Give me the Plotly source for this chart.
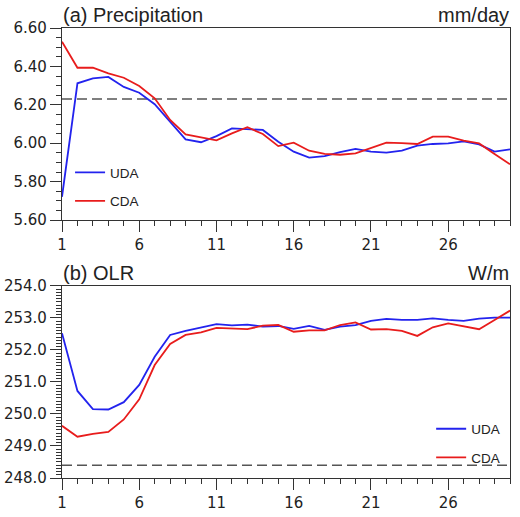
import plotly.graph_objects as go

days = list(range(1, 31))

precip_uda = [5.721, 6.312, 6.338, 6.345, 6.293, 6.263, 6.203, 6.112, 6.020, 6.005,
              6.037, 6.077, 6.074, 6.069, 6.008, 5.956, 5.925, 5.933, 5.953, 5.970,
              5.956, 5.951, 5.961, 5.987, 5.996, 5.999, 6.010, 5.994, 5.956, 5.968]
precip_cda = [6.529, 6.393, 6.393, 6.364, 6.341, 6.298, 6.234, 6.121, 6.046, 6.029,
              6.015, 6.051, 6.083, 6.048, 5.985, 6.003, 5.961, 5.944, 5.940, 5.947,
              5.973, 6.003, 6.000, 5.996, 6.034, 6.034, 6.013, 5.999, 5.944, 5.890]
olr_uda = [252.52, 250.72, 250.15, 250.14, 250.37, 250.91, 251.79, 252.47, 252.60, 252.70,
           252.81, 252.77, 252.79, 252.73, 252.75, 252.66, 252.75, 252.63, 252.73, 252.78,
           252.91, 252.97, 252.94, 252.94, 252.99, 252.94, 252.91, 252.98, 253.01, 253.01]
olr_cda = [249.63, 249.29, 249.38, 249.44, 249.83, 250.46, 251.53, 252.19, 252.47, 252.55,
           252.69, 252.66, 252.65, 252.76, 252.78, 252.57, 252.61, 252.61, 252.78, 252.86,
           252.64, 252.65, 252.60, 252.44, 252.71, 252.83, 252.73, 252.65, 252.94, 253.23]
precip_ref = 6.23
olr_ref = 248.4

series_names = ["UDA", "CDA"]
panel_titles = ["(a) Precipitation", "(b) OLR"]
panel_units = ["mm/day", "W/m"]

BLUE = "#2323ee"
RED = "#e81c1c"
FRAME = "#333333"
TICKFONT = dict(family="DejaVu Sans", size=15, color="#222222")
LEGFONT = dict(family="Liberation Sans, Arial", size=13.5, color="#222222")
TITLEFONT = dict(family="Liberation Sans, Arial", size=20, color="#222222")

fig = go.Figure()

fig.add_trace(go.Scatter(x=days, y=precip_uda, mode="lines", name=series_names[0],
                         line=dict(color=BLUE, width=1.8), xaxis="x", yaxis="y",
                         legend="legend", legendgroup="a1"))
fig.add_trace(go.Scatter(x=days, y=precip_cda, mode="lines", name=series_names[1],
                         line=dict(color=RED, width=1.8), xaxis="x", yaxis="y",
                         legend="legend", legendgroup="a2"))
fig.add_trace(go.Scatter(x=days, y=olr_uda, mode="lines", name=series_names[0],
                         line=dict(color=BLUE, width=1.8), xaxis="x2", yaxis="y2",
                         legend="legend2", legendgroup="b1"))
fig.add_trace(go.Scatter(x=days, y=olr_cda, mode="lines", name=series_names[1],
                         line=dict(color=RED, width=1.8), xaxis="x2", yaxis="y2",
                         legend="legend2", legendgroup="b2"))

for yref, val in (("y", precip_ref), ("y2", olr_ref)):
    xref = "x domain" if yref == "y" else "x2 domain"
    fig.add_shape(type="line", xref=xref, yref=yref, x0=0, x1=1, y0=val, y1=val,
                  line=dict(color="#555555", width=1.5, dash="10px,5px"), layer="below")

xcommon = dict(range=[1, 30], tick0=1, dtick=5, ticks="outside", ticklen=11, tickwidth=1.2,
               tickcolor=FRAME, showline=True, linecolor=FRAME, linewidth=1.3, mirror=True,
               showgrid=False, zeroline=False, tickfont=TICKFONT, automargin=False,
               minor=dict(dtick=1, tick0=1, ticks="outside", ticklen=5, tickcolor=FRAME,
                          tickwidth=1, showgrid=False))
ycommon = dict(ticks="outside", ticklen=11, tickwidth=1.2, tickcolor=FRAME, showline=True,
               linecolor=FRAME, linewidth=1.3, mirror=True, showgrid=False, zeroline=False,
               tickfont=TICKFONT, automargin=False)

fig.update_layout(
    width=520, height=517,
    margin=dict(l=62, r=10, t=28, b=39, autoexpand=False),
    paper_bgcolor="white", plot_bgcolor="white",
    xaxis=dict(domain=[0, 1], anchor="y", **xcommon),
    yaxis=dict(domain=[0.5733, 1], anchor="x", range=[5.6, 6.6], dtick=0.2, tick0=5.6,
               tickformat=".2f",
               minor=dict(dtick=0.05, ticks="outside", ticklen=5, tickcolor=FRAME, tickwidth=1),
               **ycommon),
    xaxis2=dict(domain=[0, 1], anchor="y2", **xcommon),
    yaxis2=dict(domain=[0, 0.4267], anchor="x2", range=[248, 254], dtick=1, tick0=248,
                tickformat=".1f",
                minor=dict(dtick=0.1, ticks="outside", ticklen=5, tickcolor=FRAME, tickwidth=1),
                **ycommon),
    legend=dict(x=0.018, y=0.713, xanchor="left", yanchor="top", bgcolor="rgba(0,0,0,0)",
                font=LEGFONT, tracegroupgap=8, itemwidth=30),
    legend2=dict(x=0.824, y=0.1434, xanchor="left", yanchor="top", bgcolor="rgba(0,0,0,0)",
                 font=LEGFONT, tracegroupgap=8, itemwidth=30),
    showlegend=True,
)

fig.add_annotation(text=panel_titles[0], xref="x domain", yref="y domain", x=0, y=1,
                   xanchor="left", yanchor="bottom", showarrow=False, font=TITLEFONT,
                   yshift=1, borderpad=0)
fig.add_annotation(text=panel_units[0], xref="x domain", yref="y domain", x=1, y=1,
                   xanchor="right", yanchor="bottom", showarrow=False, font=TITLEFONT,
                   yshift=1, borderpad=0)
fig.add_annotation(text=panel_titles[1], xref="x2 domain", yref="y2 domain", x=0, y=1,
                   xanchor="left", yanchor="bottom", showarrow=False, font=TITLEFONT,
                   yshift=1, borderpad=0)
fig.add_annotation(text=panel_units[1], xref="x2 domain", yref="y2 domain", x=1, y=1,
                   xanchor="right", yanchor="bottom", showarrow=False, font=TITLEFONT,
                   yshift=1, borderpad=0)

fig.write_html("out.html", config={"displayModeBar": False},
               post_script="document.body.style.margin='0px';document.body.style.overflow='hidden';")
